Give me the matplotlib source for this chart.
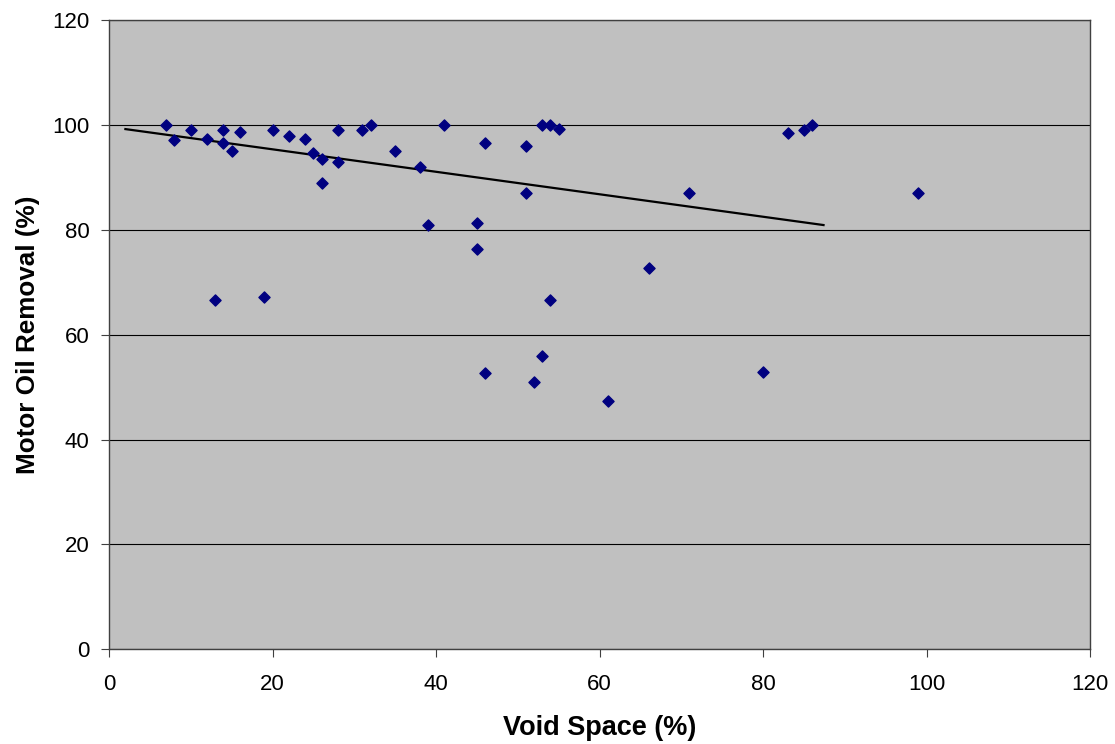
import matplotlib.pyplot as plt

# void space (%) vs motor oil removal (%)
void_space = [7, 8, 10, 12, 14, 14, 15, 16, 13, 19, 20, 22, 24, 25, 26, 26,
              28, 28, 31, 32, 35, 38, 39, 41, 45, 45, 46, 46, 51, 51, 52, 53,
              53, 54, 54, 55, 61, 66, 71, 80, 83, 85, 86, 99]
oil_removal = [100, 97.2, 99, 97.3, 99, 96.5, 95, 98.6, 66.7, 67.2, 99, 97.9,
               97.3, 94.7, 93.5, 89, 99, 93, 99, 100, 95, 92, 81, 100, 81.3,
               76.4, 96.6, 52.7, 96, 87, 51, 100, 56, 100, 66.7, 99.3, 47.4,
               72.8, 87, 52.8, 98.4, 99, 100, 87]

# linear trendline endpoints
trend_x = [2, 87.4]
trend_y = [99.2, 80.9]

plt.rcParams['font.family'] = ['Liberation Sans', 'DejaVu Sans']

fig = plt.figure(figsize=(11.15, 7.44), dpi=100)
ax = fig.add_axes([0.0978, 0.1273, 0.8798, 0.8458])
ax.set_facecolor('#C0C0C0')

ax.scatter(void_space, oil_removal, marker='D', s=32, color='#000080', zorder=3)
ax.plot(trend_x, trend_y, color='black', linewidth=1.6, zorder=2)

ax.set_xlim(0, 120)
ax.set_ylim(0, 120)
ax.set_xticks(range(0, 121, 20))
ax.set_yticks(range(0, 121, 20))
ax.grid(axis='y', color='black', linewidth=0.8)
ax.set_axisbelow(True)
for s in ax.spines.values():
    s.set_color('#404040')
    s.set_linewidth(1)
ax.tick_params(direction='out', length=6, labelsize=16, pad=8, color='#404040')
ax.tick_params(axis='x', pad=12)

ax.set_xlabel('Void Space (%)', fontsize=19.5, fontweight='bold', labelpad=14)
ax.set_ylabel('Motor Oil Removal (%)', fontsize=18.8, fontweight='bold', labelpad=9)

plt.savefig('out.png', dpi=100)
